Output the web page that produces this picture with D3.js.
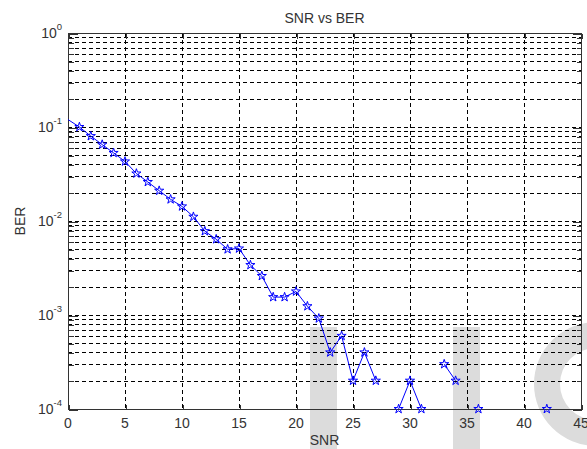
<!DOCTYPE html>
<html>
<head>
<meta charset="utf-8">
<script src="https://cdn.jsdelivr.net/npm/d3@7/dist/d3.min.js"></script>
<style>
  html, body { margin: 0; padding: 0; background: #fff; }
  svg { display: block; }
  text { font-family: "Liberation Sans", Arial, sans-serif; fill: #333; }
</style>
</head>
<body>
<svg id="chart" width="587" height="449"></svg>
<script>
// ---- data ----
const snr = [0,1,2,3,4,5,6,7,8,9,10,11,12,13,14,15,16,17,18,19,20,21,22,23,24,25,26,27,28,29,30,31,32,33,34,35,36,37,38,39,40,41,42];
const ber = [0.12,0.1,0.08,0.065,0.053,0.043,0.032,0.026,0.021,0.017,0.0143,0.0111,0.0078,0.0064,0.0050,0.0051,0.0034,0.0026,0.00155,0.00155,0.00178,0.00124,0.00092,0.0004,0.0006,0.0002,0.0004,0.0002,null,0.0001,0.0002,0.0001,null,0.0003,0.0002,null,0.0001,null,null,null,null,null,0.0001];
const xTicks = [0,5,10,15,20,25,30,35,40,45];
const yTicks = [1e0,1e-1,1e-2,1e-3,1e-4];
const yTickExp = ["0","-1","-2","-3","-4"];
const titleText = "SNR vs BER";
const xLabel = "SNR";
const yLabel = "BER";

// ---- layout ----
const L = 68, R = 581, T = 33, B = 409;
const svg = d3.select("#chart");
const x = d3.scaleLinear().domain([0,45]).range([L,R]);
const y = d3.scaleLog().domain([1e-4,1]).range([B,T]);

// watermark (background artifact)
const wm = svg.append("g").attr("fill","#dcdcdc");
wm.append("rect").attr("x",310).attr("y",327).attr("width",27).attr("height",122);
wm.append("rect").attr("x",453).attr("y",327).attr("width",27).attr("height",122);
wm.append("path").attr("transform","translate(596,384)")
  .attr("d", d3.arc()({innerRadius:36, outerRadius:62, startAngle:0, endAngle:2*Math.PI}));

// minor + major y grid values
const yGrid = [];
for (let e = -4; e < 0; e++) for (let m = 1; m <= 9; m++) yGrid.push(m*Math.pow(10,e));
const yMinor = yGrid.filter(v => Math.abs(Math.log10(v) - Math.round(Math.log10(v))) > 1e-9);

const grid = svg.append("g").attr("stroke","#000").attr("stroke-width",1)
  .attr("stroke-dasharray","4,3").attr("shape-rendering","crispEdges");
grid.selectAll("line.hy").data(yGrid.filter(v => v > 1e-4)).enter().append("line")
  .attr("x1",L).attr("x2",R).attr("y1",d=>Math.round(y(d))+0.5).attr("y2",d=>Math.round(y(d))+0.5);
grid.selectAll("line.vx").data(xTicks.filter(v => v > 0 && v < 45)).enter().append("line")
  .attr("y1",T).attr("y2",B).attr("x1",d=>Math.round(x(d))+0.5).attr("x2",d=>Math.round(x(d))+0.5);

// axes box
const ax = svg.append("g").attr("stroke","#333").attr("stroke-width",1).attr("shape-rendering","crispEdges");
ax.append("rect").attr("x",L+0.5).attr("y",T+0.5).attr("width",R-L).attr("height",B-T).attr("fill","none");

// ticks (inside, both sides)
const yAxisL = d3.axisRight(y).tickValues(yTicks).tickSize(9).tickFormat("");
const yAxisR = d3.axisLeft(y).tickValues(yTicks).tickSize(9).tickFormat("");
const yMinL = d3.axisRight(y).tickValues(yMinor).tickSize(5).tickFormat("");
const yMinR = d3.axisLeft(y).tickValues(yMinor).tickSize(5).tickFormat("");
const xAxisB = d3.axisTop(x).tickValues(xTicks).tickSize(5).tickFormat("");
const xAxisT = d3.axisBottom(x).tickValues(xTicks).tickSize(5).tickFormat("");
function drawAxis(a, tx, ty) {
  const g = svg.append("g").attr("transform",`translate(${tx},${ty})`).call(a);
  g.select(".domain").remove();
  g.selectAll("line").attr("stroke","#333").attr("shape-rendering","crispEdges");
}
drawAxis(yAxisL, L+0.5, 0.5);
drawAxis(yMinL, L+0.5, 0.5);
drawAxis(yAxisR, R+0.5, 0.5);
drawAxis(yMinR, R+0.5, 0.5);
drawAxis(xAxisB, 0.5, B+0.5);
drawAxis(xAxisT, 0.5, T+0.5);

// tick labels
svg.append("g").selectAll("text").data(xTicks).enter().append("text")
  .attr("x",d=>x(d)).attr("y",428).attr("text-anchor","middle")
  .attr("font-size",14).text(d=>d);
const yl = svg.append("g").selectAll("text").data(yTicks).enter().append("text")
  .attr("x",62).attr("y",d=>y(d)+5).attr("text-anchor","end").attr("font-size",14);
yl.append("tspan").text("10");
yl.append("tspan").attr("dy",-8).attr("font-size",9.5).text((d,i)=>yTickExp[i]);

// labels
svg.append("text").attr("x",(L+R)/2).attr("y",23).attr("text-anchor","middle").attr("font-size",14).text(titleText);
svg.append("text").attr("x",(L+R)/2).attr("y",445).attr("text-anchor","middle").attr("font-size",14).text(xLabel);
svg.append("text").attr("transform",`translate(25,${(T+B)/2}) rotate(-90)`).attr("text-anchor","middle").attr("font-size",14).text(yLabel);

// data line
const data = snr.map((s,i)=>({x:s, v:ber[i]}));
svg.append("defs").append("clipPath").attr("id","clip").append("rect")
  .attr("x",L).attr("y",T).attr("width",R-L).attr("height",B-T+1);
const line = d3.line().defined(d=>d.v!=null).x(d=>x(d.x)).y(d=>y(d.v));
svg.append("path").datum(data).attr("clip-path","url(#clip)")
  .attr("fill","none").attr("stroke","#0000ff").attr("stroke-width",1).attr("d",line);

// markers (the one on the left axis edge is clipped away)
const star = d3.symbol().type(d3.symbolStar).size(26);
svg.append("g").selectAll("path").data(data.filter(d=>d.v!=null && d.x>0)).enter().append("path")
  .attr("transform",d=>`translate(${x(d.x)},${y(d.v)})`)
  .attr("d",star).attr("fill","none").attr("stroke","#0000ff").attr("stroke-width",1);
</script>
</body>
</html>
